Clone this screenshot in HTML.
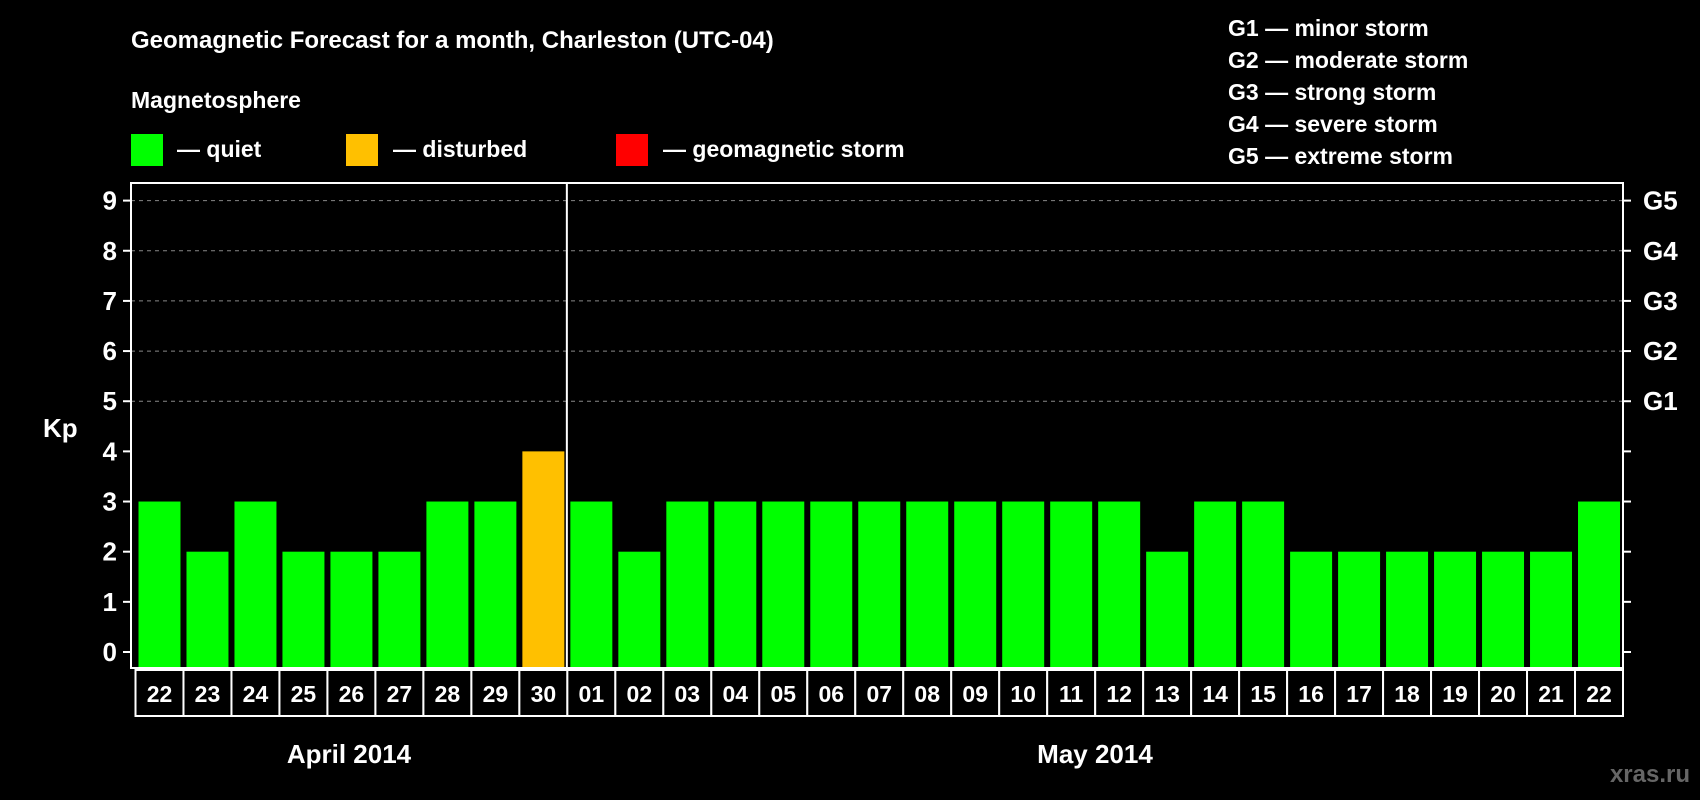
<!DOCTYPE html>
<html><head><meta charset="utf-8"><style>
html,body{margin:0;padding:0;background:#000;width:1700px;height:800px;overflow:hidden}
svg{display:block;font-family:"Liberation Sans",Arial,sans-serif;font-weight:bold}
</style></head><body>
<svg id="chart" width="1700" height="800" viewBox="0 0 1700 800">
<text x="131" y="48" fill="#fff" font-size="24">Geomagnetic Forecast for a month, Charleston (UTC-04)</text>
<text x="131" y="108" fill="#fff" font-size="23">Magnetosphere</text>
<g><rect x="131" y="134" width="32" height="32" fill="#00ff00"/><text x="177" y="157" fill="#fff" font-size="23">— quiet</text></g>
<g><rect x="346" y="134" width="32" height="32" fill="#ffc000"/><text x="393" y="157" fill="#fff" font-size="23">— disturbed</text></g>
<g><rect x="616" y="134" width="32" height="32" fill="#ff0000"/><text x="663" y="157" fill="#fff" font-size="23">— geomagnetic storm</text></g>
<g fill="#fff" font-size="23">
<text x="1228" y="36">G1 — minor storm</text>
<text x="1228" y="68">G2 — moderate storm</text>
<text x="1228" y="100">G3 — strong storm</text>
<text x="1228" y="132">G4 — severe storm</text>
<text x="1228" y="164">G5 — extreme storm</text>
</g>
<text x="43" y="437" fill="#fff" font-size="26">Kp</text>
<text x="349" y="763" fill="#fff" font-size="26" text-anchor="middle">April 2014</text>
<text x="1095" y="763" fill="#fff" font-size="26" text-anchor="middle">May 2014</text>
<text x="1690" y="782" fill="#666" font-size="24" text-anchor="end">xras.ru</text>
<g id="plot"></g>
</svg>
<script>
const days = ["22","23","24","25","26","27","28","29","30","01","02","03","04","05","06","07","08","09","10","11","12","13","14","15","16","17","18","19","20","21","22"];
const kpValues = [3,2,3,2,2,2,3,3,4,3,2,3,3,3,3,3,3,3,3,3,3,2,3,3,2,2,2,2,2,2,3];
const yTicks = [0,1,2,3,4,5,6,7,8,9];
const gLabels = ["G1","G2","G3","G4","G5"];
const gLevels = [5,6,7,8,9];
const monthSplitIndex = 9;

const NS = "http://www.w3.org/2000/svg";
const plot = document.getElementById('plot');
const L = 131, R = 1623, T = 183, B = 668;
const y0 = 652, unit = (652 - 200.6) / 9;
const xs0 = 135.5, slot = (1623 - 135.5) / days.length;
function yScale(v){ return y0 - v * unit; }
function xScale(i){ return xs0 + i * slot; }
function mk(tag, attrs){ const e = document.createElementNS(NS, tag); for (const k in attrs) e.setAttribute(k, attrs[k]); plot.appendChild(e); return e; }
function color(v){ return v >= 5 ? "#ff0000" : (v >= 4 ? "#ffc000" : "#00ff00"); }

// gridlines
gLevels.forEach(function(v){
  const g = mk('line', {x1:L, x2:R, y1:yScale(v), y2:yScale(v), stroke:"#888", "stroke-dasharray":"4,4", "stroke-width":1});
  
  
});
// bars
kpValues.forEach(function(v, i){
  const b = mk('rect', {x:xScale(i) + 3, y:yScale(v), width:slot - 6, height:yScale(0) - yScale(v) + 16, fill:color(v)});
  
  
});
// frame
const fr = mk('rect', {x:L, y:T, width:R - L, height:B - T, fill:"none", stroke:"#fff", "stroke-width":2});


const sp = mk('line', {x1:xScale(monthSplitIndex) - 0.5, x2:xScale(monthSplitIndex) - 0.5, y1:T, y2:B, stroke:"#fff", "stroke-width":2});


// y ticks
yTicks.forEach(function(v){
  const y = yScale(v);
  mk('line', {x1:L - 8, x2:L, y1:y, y2:y, stroke:"#fff", "stroke-width":2});
  mk('line', {x1:R, x2:R + 8, y1:y, y2:y, stroke:"#fff", "stroke-width":2});
  const t = mk('text', {x:L - 14, y:y + 9, fill:"#fff", "font-size":26, "text-anchor":"end"});
  t.textContent = v;
  
  
});
gLabels.forEach(function(g, i){
  const t = mk('text', {x:R + 20, y:yScale(gLevels[i]) + 9, fill:"#fff", "font-size":26});
  t.textContent = g;
  
  
});
// day boxes
days.forEach(function(d, i){
  const r = mk('rect', {x:xScale(i), y:670, width:slot, height:46, fill:"#000", stroke:"#fff", "stroke-width":2});
  
  
  const t = mk('text', {x:xScale(i) + slot / 2, y:702, fill:"#fff", "font-size":23, "text-anchor":"middle"});
  t.textContent = d;
  
  
});
</script>
</body></html>
